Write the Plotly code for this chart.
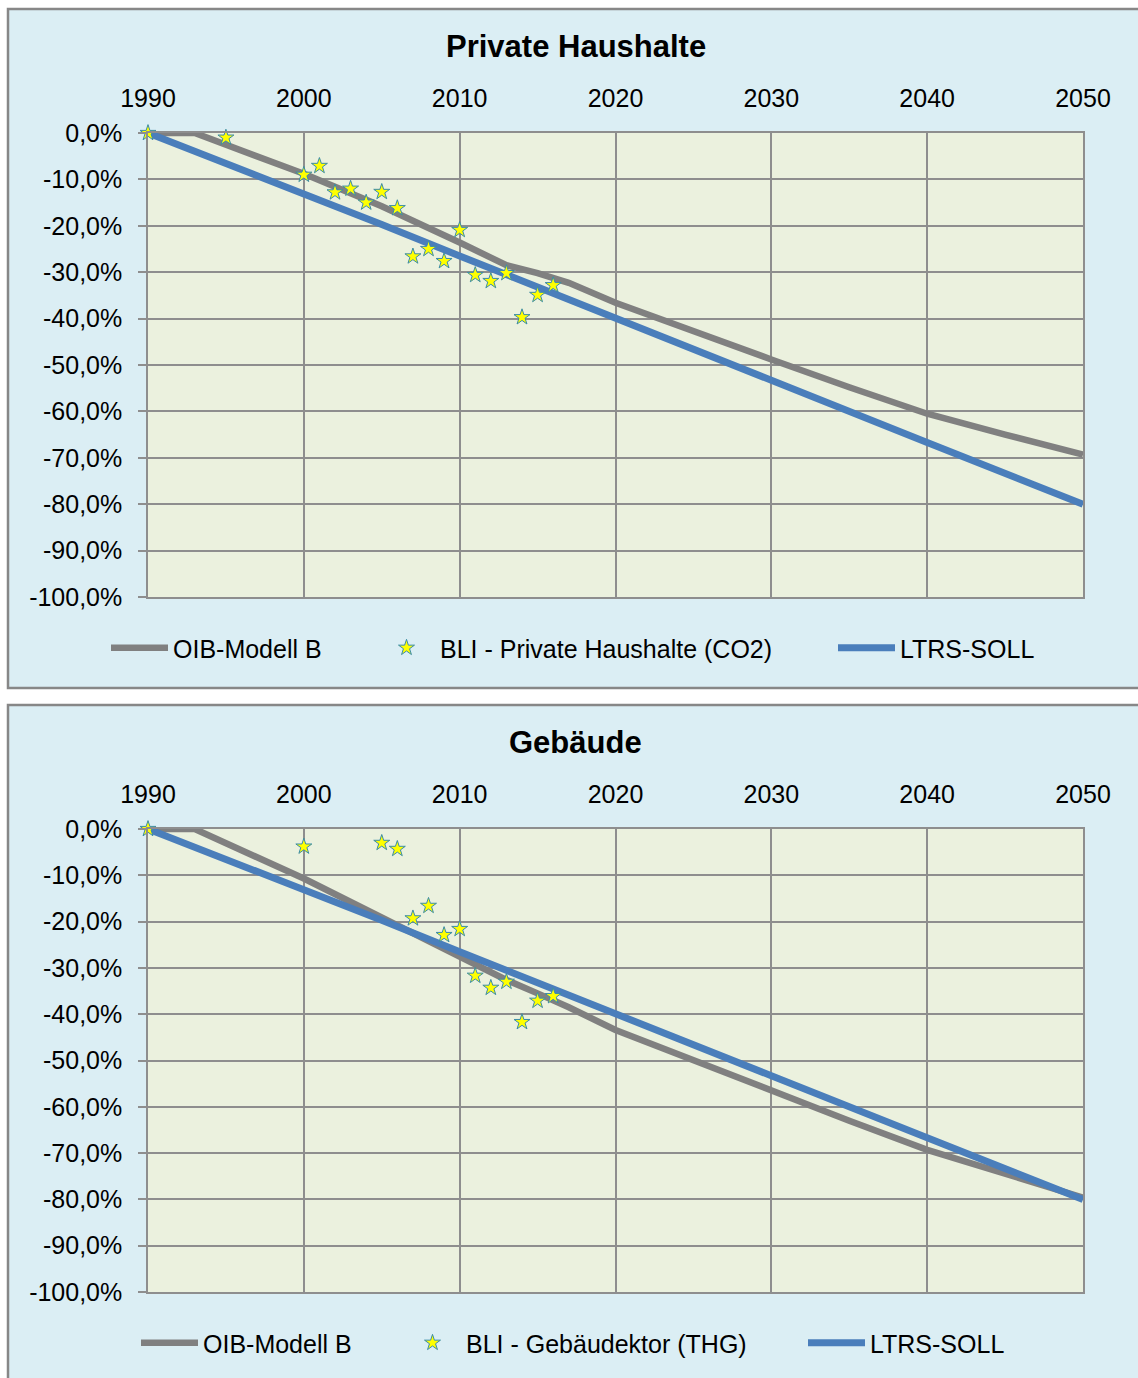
import plotly.graph_objects as go

# ---- data -----------------------------------------------------------------
# LTRS target path (same for both sectors), % change vs. 1990
years_ltrs = [1990, 2000, 2005, 2010, 2015, 2020, 2030, 2040, 2050]
ltrs_soll = [0.0, -13.0, -19.7, -26.5, -33.3, -40.0, -53.3, -66.7, -80.0]

# OIB model B scenario
years_oib = [1990, 1993, 2000, 2005, 2010, 2013, 2015, 2017, 2020,
             2025, 2030, 2035, 2040, 2045, 2050]
oib_haushalte = [0.0, 0.0, -8.8, -15.8, -23.6, -28.5, -30.2, -32.3, -36.6,
                 -42.8, -48.8, -54.8, -60.5, -65.0, -69.3]
oib_gebaeude = [0.0, 0.0, -10.7, -19.0, -27.5, -32.6, -35.5, -38.5, -43.4,
                -50.0, -56.5, -63.0, -69.3, -74.6, -79.6]

# Bundesländer inventory (BLI) observations
years_bli_hh = [1990, 1995, 2000, 2001, 2002, 2003, 2004, 2005, 2006, 2007,
                2008, 2009, 2010, 2011, 2012, 2013, 2014, 2015, 2016]
bli_haushalte = [0.0, -1.0, -9.0, -7.1, -12.8, -12.0, -15.0, -12.7, -16.2,
                 -26.6, -25.0, -27.6, -20.9, -30.6, -31.9, -30.2, -39.7,
                 -34.9, -32.8]

years_bli_geb = [1990, 2000, 2005, 2006, 2007, 2008, 2009, 2010, 2011,
                 2012, 2013, 2014, 2015, 2016]
bli_gebaeude = [0.0, -3.8, -3.0, -4.3, -19.3, -16.6, -22.9, -21.6, -31.7,
                -34.3, -33.0, -41.7, -37.1, -36.1]

x_ticks = [1990, 2000, 2010, 2020, 2030, 2040, 2050]
y_ticks = [0, -10, -20, -30, -40, -50, -60, -70, -80, -90, -100]
y_tick_labels = ["0,0%", "-10,0%", "-20,0%", "-30,0%", "-40,0%", "-50,0%",
                 "-60,0%", "-70,0%", "-80,0%", "-90,0%", "-100,0%"]

# ---- styling --------------------------------------------------------------
W, H = 1138, 1378
FONT = "Liberation Sans, Arial, sans-serif"
GREY_LINE = "#808080"
BLUE_LINE = "#4A7EBB"
GRID = "#8E8E8E"
PANEL_BG = "#DBEEF4"
PLOT_BG = "#EBF1DE"


def px_x(x):
    return x / W


def px_y(y):
    return 1 - y / H


star = dict(symbol="star", size=12, color="#FFFF00",
            line=dict(color="#3A8CA8", width=1))

fig = go.Figure()

panels = [
    dict(xa="x", ya="y", oib=oib_haushalte, bx=years_bli_hh, by=bli_haushalte,
         bli_name="BLI - Private Haushalte (CO2)", legends=("legend", "legend2", "legend3")),
    dict(xa="x2", ya="y2", oib=oib_gebaeude, bx=years_bli_geb, by=bli_gebaeude,
         bli_name="BLI - Gebäudektor (THG)", legends=("legend4", "legend5", "legend6")),
]

for p in panels:
    fig.add_trace(go.Scatter(x=years_oib, y=p["oib"], mode="lines", name="OIB-Modell B",
                             line=dict(color=GREY_LINE, width=6.5),
                             xaxis=p["xa"], yaxis=p["ya"], legend=p["legends"][0]))
    fig.add_trace(go.Scatter(x=years_ltrs, y=ltrs_soll, mode="lines", name="LTRS-SOLL",
                             line=dict(color=BLUE_LINE, width=7),
                             xaxis=p["xa"], yaxis=p["ya"], legend=p["legends"][2]))
    fig.add_trace(go.Scatter(x=p["bx"], y=p["by"], mode="markers", name=p["bli_name"],
                             marker=star, cliponaxis=False,
                             xaxis=p["xa"], yaxis=p["ya"], legend=p["legends"][1]))

# plot area pixel boxes (left, right, top, bottom)
x_left, x_right = 148, 1083
top_box = (133, 597)
bot_box = (829, 1292)

axis_common = dict(showline=True, mirror=True, linecolor=GRID, linewidth=1.5,
                   showgrid=True, gridcolor=GRID, gridwidth=1.5, zeroline=False,
                   automargin=False,
                   tickfont=dict(family=FONT, size=25, color="#000000"))

xdom = [px_x(x_left), px_x(x_right)]
x_axis = dict(domain=xdom, side="top", range=[1990, 2050], tickvals=x_ticks,
              ticks="", ticklabelstandoff=14, **axis_common)
y_axis = dict(range=[-100, 0], tickvals=y_ticks, ticktext=y_tick_labels,
              ticks="outside", ticklen=8, tickcolor=GRID, tickwidth=1.5,
              ticklabelstandoff=11, **axis_common)

fig.update_layout(
    xaxis=dict(anchor="y", **x_axis),
    yaxis=dict(domain=[px_y(top_box[1]), px_y(top_box[0])], anchor="x", **y_axis),
    xaxis2=dict(anchor="y2", **x_axis),
    yaxis2=dict(domain=[px_y(bot_box[1]), px_y(bot_box[0])], anchor="x2", **y_axis),
)

# panel frames and plot-area fills
shapes = [
    dict(type="rect", xref="paper", yref="paper", x0=px_x(8), x1=1.02,
         y0=px_y(688), y1=px_y(9), fillcolor=PANEL_BG,
         line=dict(color="#878787", width=2.5), layer="below"),
    dict(type="rect", xref="paper", yref="paper", x0=px_x(8), x1=1.02,
         y0=-0.02, y1=px_y(705), fillcolor=PANEL_BG,
         line=dict(color="#878787", width=2.5), layer="below"),
    dict(type="rect", xref="paper", yref="paper", x0=px_x(x_left), x1=px_x(x_right),
         y0=px_y(top_box[1]), y1=px_y(top_box[0]), fillcolor=PLOT_BG,
         line=dict(width=0), layer="below"),
    dict(type="rect", xref="paper", yref="paper", x0=px_x(x_left), x1=px_x(x_right),
         y0=px_y(bot_box[1]), y1=px_y(bot_box[0]), fillcolor=PLOT_BG,
         line=dict(width=0), layer="below"),
]

annotations = [
    dict(text="<b>Private Haushalte</b>", x=px_x(576), y=px_y(47), xref="paper", yref="paper",
         showarrow=False, xanchor="center", yanchor="middle",
         font=dict(family=FONT, size=31, color="#000000")),
    dict(text="<b>Gebäude</b>", x=px_x(575), y=px_y(743), xref="paper", yref="paper",
         showarrow=False, xanchor="center", yanchor="middle",
         font=dict(family=FONT, size=31, color="#000000")),
]

legend_style = dict(orientation="h", xanchor="left", yanchor="middle",
                    bgcolor="rgba(0,0,0,0)", borderwidth=0, itemwidth=57,
                    font=dict(family=FONT, size=25, color="#000000"))

legend_pos = {
    "legend": (106, 648), "legend2": (373, 648), "legend3": (833, 648),
    "legend4": (136, 1343), "legend5": (399, 1343), "legend6": (803, 1343),
}
for name, (lx, ly) in legend_pos.items():
    fig.update_layout({name: dict(x=px_x(lx), y=px_y(ly), **legend_style)})

fig.update_layout(
    width=W, height=H, autosize=False,
    margin=dict(l=0, r=0, t=0, b=0, autoexpand=False),
    paper_bgcolor="#FFFFFF", plot_bgcolor="rgba(0,0,0,0)",
    shapes=shapes, annotations=annotations,
    font=dict(family=FONT, color="#000000"),
    showlegend=True,
)

fig.write_html("out.html")
